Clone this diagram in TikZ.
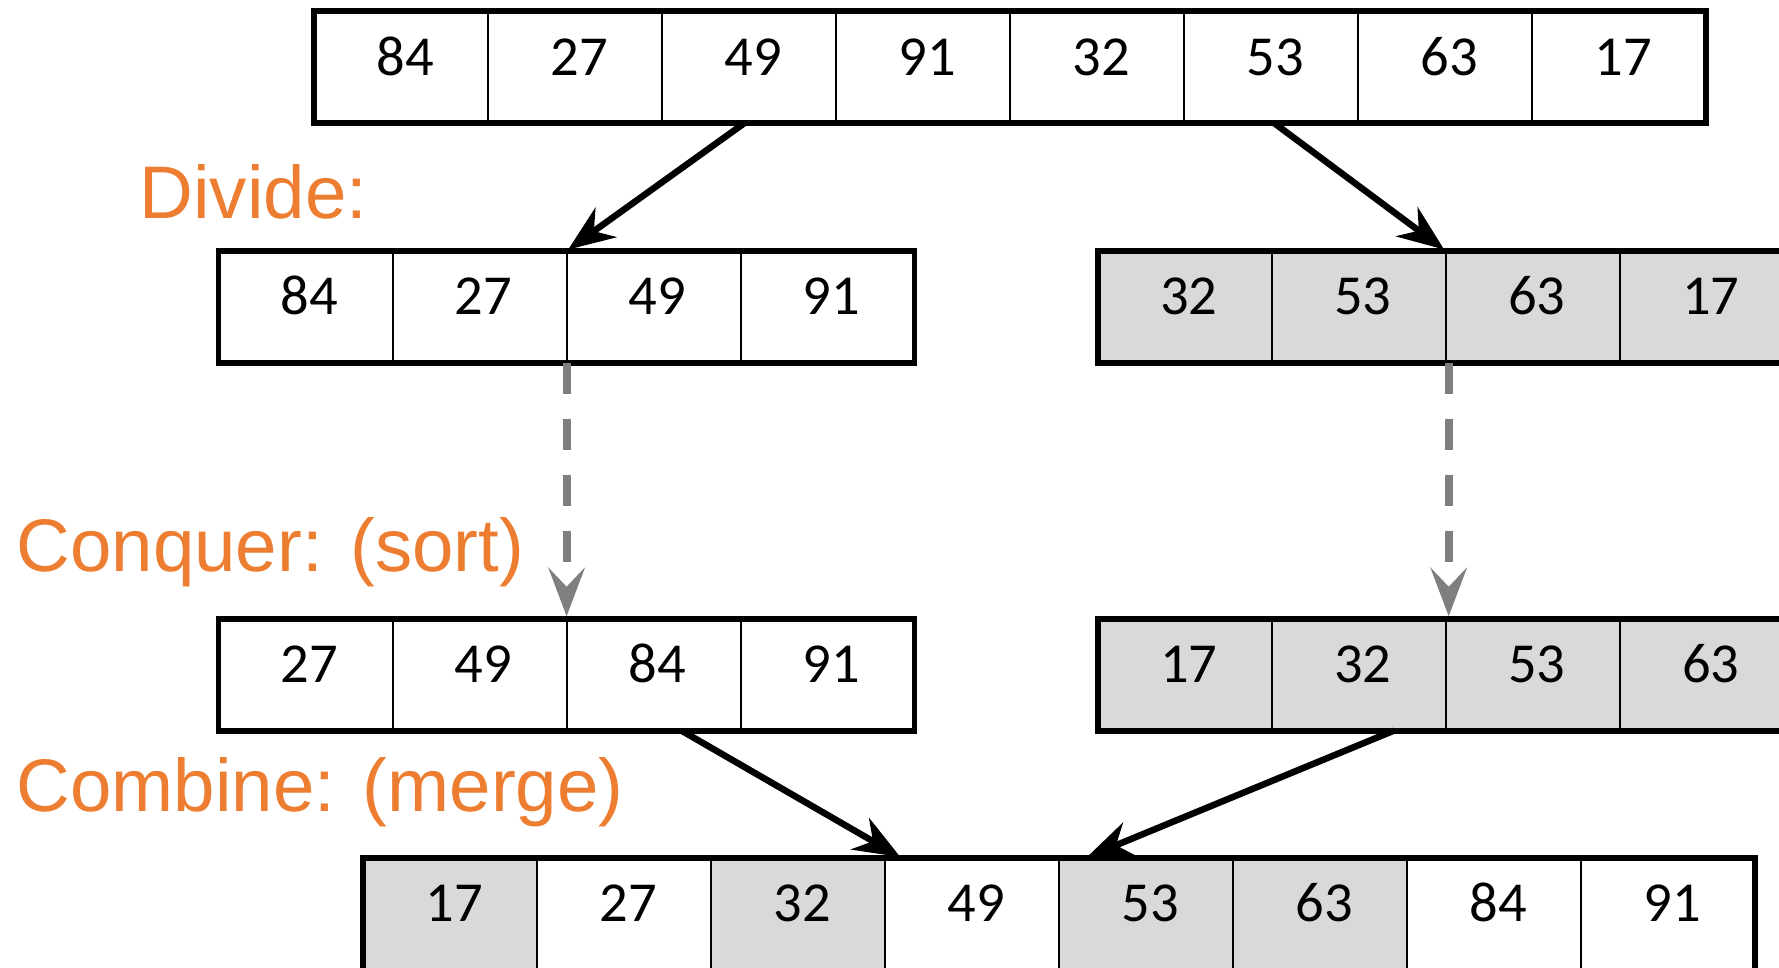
\documentclass[tikz,border=0pt]{standalone}
\usepackage{fontspec}
\newfontfamily\cellfont{Carlito}
\newfontfamily\labelfont{Liberation Sans}
\usetikzlibrary{arrows.meta}
\definecolor{stepcolor}{HTML}{ED7D31}
\definecolor{shade}{HTML}{D9D9D9}
\definecolor{dashgray}{HTML}{7F7F7F}
\begin{document}
\begin{tikzpicture}[x=1pt, y=-1pt,
  cell/.style={draw=black, line width=2pt, anchor=north west,
    minimum width=174pt, minimum height=112pt, inner sep=0pt, outer sep=0pt,
    text height=35.7pt, text depth=20pt,
    execute at begin node={\hspace*{8pt}},
    font=\cellfont\fontsize{56.5}{60}\selectfont},
  frame/.style={draw=black, line width=5.7pt},
  steplabel/.style={anchor=base west, inner sep=0pt, text=stepcolor,
    font=\labelfont\fontsize{74.5}{80}\selectfont},
  flow/.style={draw=black, line width=6.5pt,
    -{Stealth[length=47pt, width=37pt, inset=15.5pt, line width=0pt]},
    shorten >=2pt},
  recurse/.style={draw=dashgray, line width=8pt, dash pattern=on 31pt off 25pt,
    -{Stealth[length=49pt, width=37pt, inset=19.5pt, line width=0pt]},
    shorten >=2.5pt}
]
\useasboundingbox (0,0) rectangle (1779,968);
\fill[white] (0,0) rectangle (1779,968);
\clip (0,0) rectangle (1779,968);

% input array
\foreach \v [count=\i] in {84,27,49,91,32,53,63,17}
  \node[cell, fill=white] (t\i) at ({314.3+174*(\i-1)}, 11.2) {\v};
\draw[frame] (t1.north west) rectangle (t8.south east);

% divided halves
\foreach \v [count=\i] in {84,27,49,91}
  \node[cell, fill=white] (dl\i) at ({218.6+174*(\i-1)}, 250.7) {\v};
\draw[frame] (dl1.north west) rectangle (dl4.south east);
\foreach \v [count=\i] in {32,53,63,17}
  \node[cell, fill=shade] (dr\i) at ({1097.7+174*(\i-1)}, 250.7) {\v};
\draw[frame] (dr1.north west) rectangle (dr4.south east);

% sorted halves
\foreach \v [count=\i] in {27,49,84,91}
  \node[cell, fill=white] (cl\i) at ({218.6+174*(\i-1)}, 618.7) {\v};
\draw[frame] (cl1.north west) rectangle (cl4.south east);
\foreach \v [count=\i] in {17,32,53,63}
  \node[cell, fill=shade] (cr\i) at ({1097.7+174*(\i-1)}, 618.7) {\v};
\draw[frame] (cr1.north west) rectangle (cr4.south east);

% merged result
\foreach \v/\f [count=\i] in {17/shade,27/white,32/shade,49/white,53/shade,63/shade,84/white,91/white}
  \node[cell, fill=\f] (m\i) at ({363+174*(\i-1)}, 858) {\v};
\draw[frame] (m1.south west) -- (m1.north west) -- (m8.north east) -- (m8.south east);

% step labels
\node[steplabel] (divide) at (139.3, 218.3) {Divide:};
\node[steplabel] (conquer) at (16.3, 571.7) {Conquer: (sort)};
\node[steplabel] (combine) at (16.3, 811.7) {Combine: (merge)};

% divide
\draw[flow] ([xshift=-5pt]t3.south) -- (dl2.north east);
\draw[flow] ([xshift=3pt]t6.south) -- (dr2.north east);
% conquer
\draw[recurse] (dl2.south east) -- (cl2.north east);
\draw[recurse] ([xshift=3pt]dr2.south east) -- ([xshift=3pt]cr2.north east);
% combine
\draw[flow] ([xshift=28pt]cl3.south) -- ([xshift=17pt]m4.north west);
\draw[flow] ([xshift=35pt]cr2.south) -- ([xshift=26pt]m5.north west);
\end{tikzpicture}
\end{document}
